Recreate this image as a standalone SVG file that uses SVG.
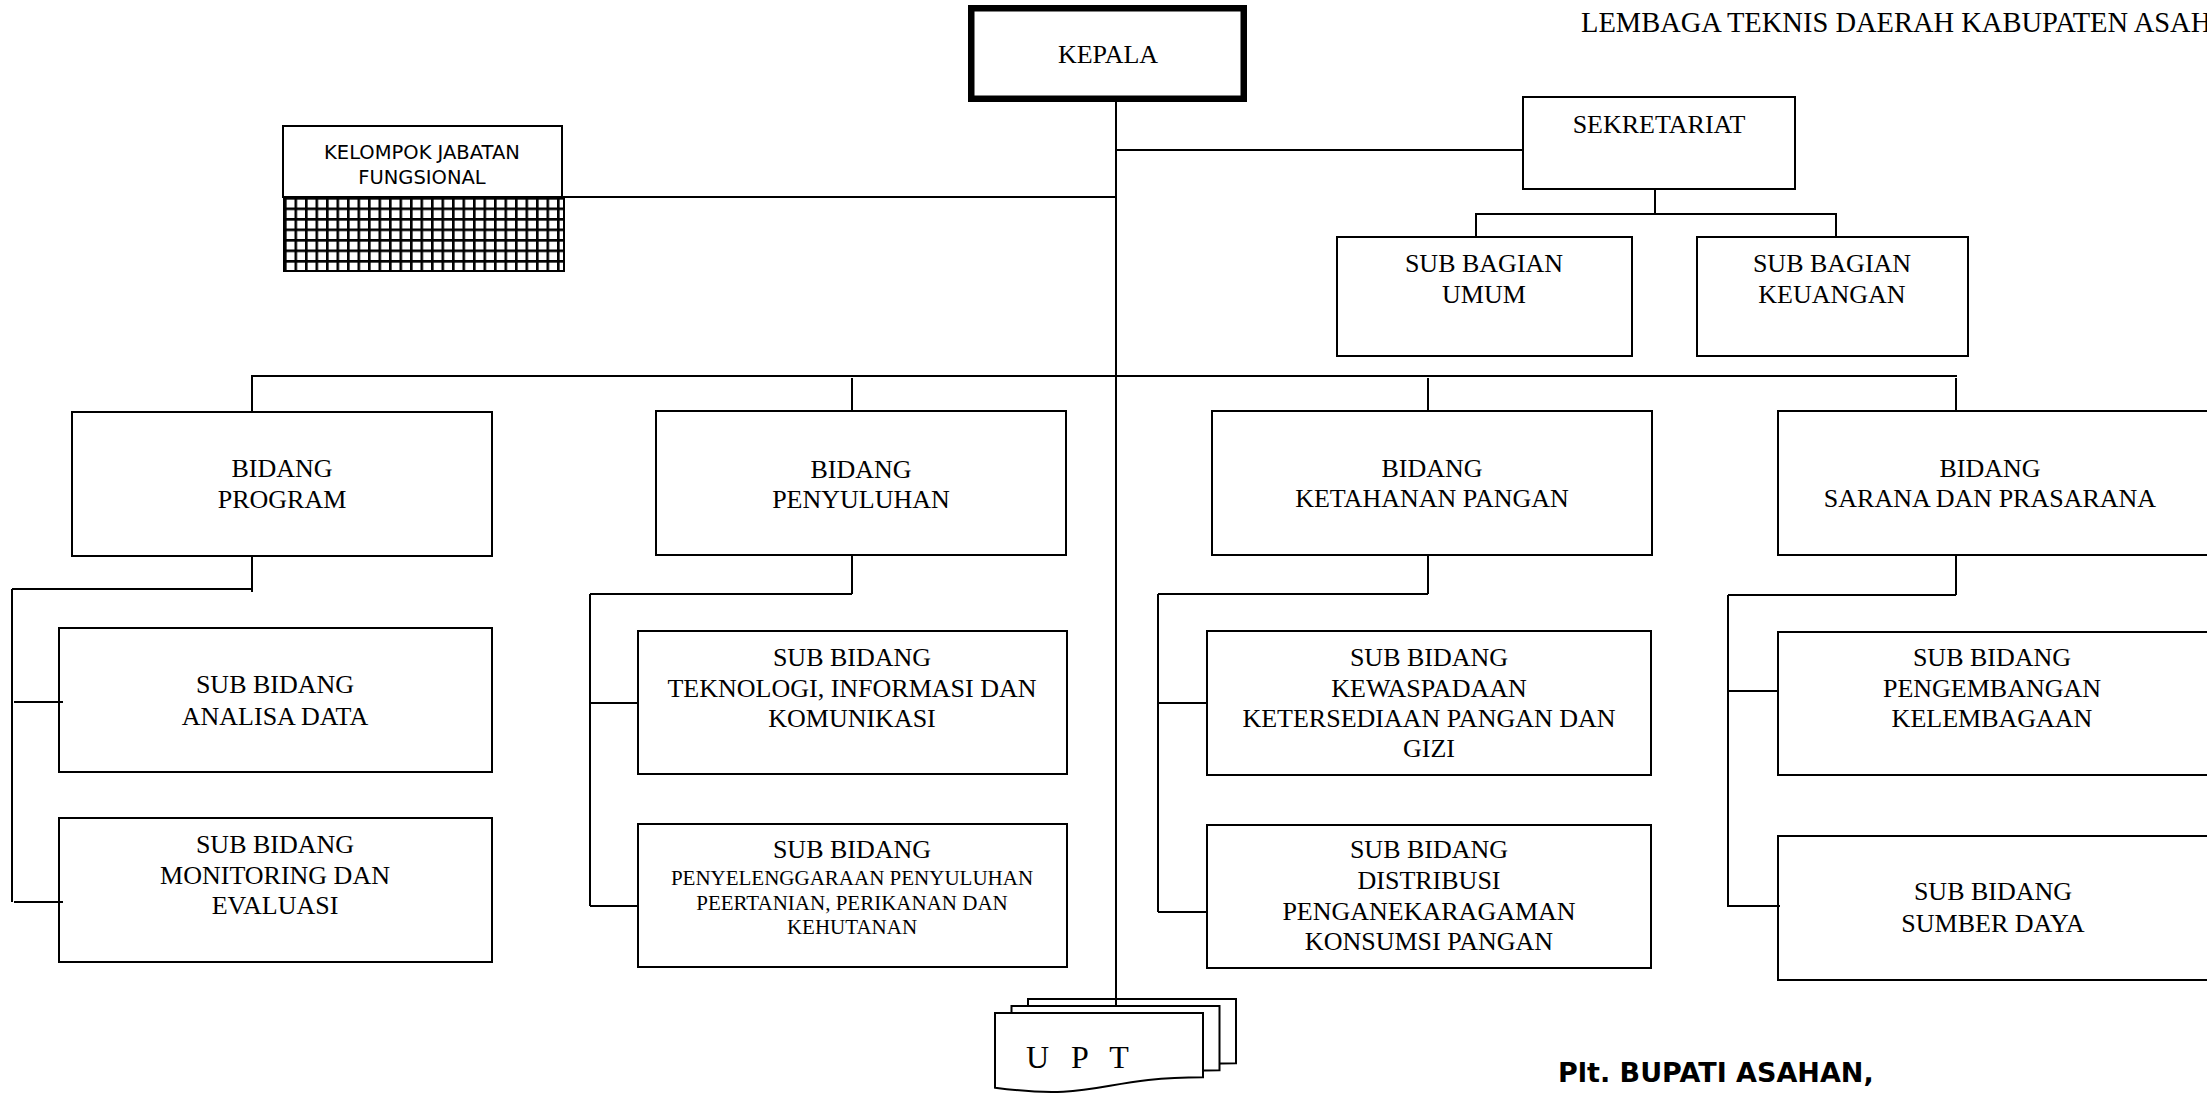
<svg xmlns="http://www.w3.org/2000/svg" width="2207" height="1093" viewBox="0 0 2207 1093">
  <defs>
    <style>
      .box { fill: #fff; stroke: #000; stroke-width: 2; }
      .ln { fill: none; stroke: #000; stroke-width: 2; }
      .t { font-family: "Liberation Serif", "Times New Roman", serif; font-size: 26px; text-anchor: middle; fill: #000; }
      .ts { font-size: 21px; }
      .sans { font-family: "DejaVu Sans", Verdana, sans-serif; font-size: 19.5px; text-anchor: middle; fill: #000; }
    </style>
    <!-- fine square grid fill used for the functional-group block -->
    <pattern id="grid" x="284" y="197" width="10.5" height="10.5" patternUnits="userSpaceOnUse">
      <rect width="10.5" height="10.5" fill="#fff"/>
      <path d="M0 1.3H10.5M1.3 0V10.5" stroke="#000" stroke-width="2.6"/>
    </pattern>
    <!-- stacked-document outline -->
    <path id="doc" d="M0 0H208V64.2C104 64.2 104 88.6 0 74.7Z"/>
  </defs>

  <rect width="2207" height="1093" fill="#fff"/>

  <text x="1581" y="32" font-family="'Liberation Serif', 'Times New Roman', serif" font-size="28.5" fill="#000">LEMBAGA TEKNIS DAERAH KABUPATEN ASAHAN</text>

  <g id="kepala">
    <rect x="971.25" y="8.25" width="272.5" height="90.5" fill="#fff" stroke="#000" stroke-width="6.5"/>
    <text class="t" x="1108" y="63">KEPALA</text>
  </g>

  <g id="kelompok-jabatan-fungsional">
    <rect class="box" x="283" y="126" width="279" height="71"/>
    <rect x="284" y="197" width="280" height="74" fill="url(#grid)" stroke="#000" stroke-width="2"/>
    <text class="sans" x="422" y="159">KELOMPOK JABATAN</text>
    <text class="sans" x="422" y="184">FUNGSIONAL</text>
  </g>

  <g id="sekretariat">
    <rect class="box" x="1523" y="97" width="272" height="92"/>
    <text class="t" x="1659" y="133">SEKRETARIAT</text>
  </g>

  <g id="sub-bagian-umum">
    <rect class="box" x="1337" y="237" width="295" height="119"/>
    <text class="t" x="1484" y="272">SUB BAGIAN</text>
    <text class="t" x="1484" y="303">UMUM</text>
  </g>

  <g id="sub-bagian-keuangan">
    <rect class="box" x="1697" y="237" width="271" height="119"/>
    <text class="t" x="1832" y="272">SUB BAGIAN</text>
    <text class="t" x="1832" y="303">KEUANGAN</text>
  </g>

  <g id="bidang-program">
    <rect class="box" x="72" y="412" width="420" height="144"/>
    <text class="t" x="282" y="477">BIDANG</text>
    <text class="t" x="282" y="508">PROGRAM</text>
  </g>

  <g id="bidang-penyuluhan">
    <rect class="box" x="656" y="411" width="410" height="144"/>
    <text class="t" x="861" y="478">BIDANG</text>
    <text class="t" x="861" y="508">PENYULUHAN</text>
  </g>

  <g id="bidang-ketahanan-pangan">
    <rect class="box" x="1212" y="411" width="440" height="144"/>
    <text class="t" x="1432" y="477">BIDANG</text>
    <text class="t" x="1432" y="507">KETAHANAN PANGAN</text>
  </g>

  <g id="bidang-sarana-prasarana">
    <rect class="box" x="1778" y="411" width="437" height="144"/>
    <text class="t" x="1990" y="477">BIDANG</text>
    <text class="t" x="1990" y="507">SARANA DAN PRASARANA</text>
  </g>

  <g id="sub-bidang-analisa-data">
    <rect class="box" x="59" y="628" width="433" height="144"/>
    <text class="t" x="275" y="693">SUB BIDANG</text>
    <text class="t" x="275" y="725">ANALISA DATA</text>
  </g>

  <g id="sub-bidang-monitoring">
    <rect class="box" x="59" y="818" width="433" height="144"/>
    <text class="t" x="275" y="853">SUB BIDANG</text>
    <text class="t" x="275" y="884">MONITORING DAN</text>
    <text class="t" x="275" y="914">EVALUASI</text>
  </g>

  <g id="sub-bidang-tik">
    <rect class="box" x="638" y="631" width="429" height="143"/>
    <text class="t" x="852" y="666">SUB BIDANG</text>
    <text class="t" x="852" y="697">TEKNOLOGI, INFORMASI DAN</text>
    <text class="t" x="852" y="727">KOMUNIKASI</text>
  </g>

  <g id="sub-bidang-penyelenggaraan">
    <rect class="box" x="638" y="824" width="429" height="143"/>
    <text class="t" x="852" y="858">SUB BIDANG</text>
    <text class="t ts" x="852" y="885">PENYELENGGARAAN PENYULUHAN</text>
    <text class="t ts" x="852" y="910">PEERTANIAN, PERIKANAN DAN</text>
    <text class="t ts" x="852" y="934">KEHUTANAN</text>
  </g>

  <g id="sub-bidang-kewaspadaan">
    <rect class="box" x="1207" y="631" width="444" height="144"/>
    <text class="t" x="1429" y="666">SUB BIDANG</text>
    <text class="t" x="1429" y="697">KEWASPADAAN</text>
    <text class="t" x="1429" y="727">KETERSEDIAAN PANGAN DAN</text>
    <text class="t" x="1429" y="757">GIZI</text>
  </g>

  <g id="sub-bidang-distribusi">
    <rect class="box" x="1207" y="825" width="444" height="143"/>
    <text class="t" x="1429" y="858">SUB BIDANG</text>
    <text class="t" x="1429" y="889">DISTRIBUSI</text>
    <text class="t" x="1429" y="920">PENGANEKARAGAMAN</text>
    <text class="t" x="1429" y="950">KONSUMSI PANGAN</text>
  </g>

  <g id="sub-bidang-pengembangan">
    <rect class="box" x="1778" y="632" width="437" height="143"/>
    <text class="t" x="1992" y="666">SUB BIDANG</text>
    <text class="t" x="1992" y="697">PENGEMBANGAN</text>
    <text class="t" x="1992" y="727">KELEMBAGAAN</text>
  </g>

  <g id="sub-bidang-sumber-daya">
    <rect class="box" x="1778" y="836" width="437" height="144"/>
    <text class="t" x="1993" y="900">SUB BIDANG</text>
    <text class="t" x="1993" y="932">SUMBER DAYA</text>
  </g>

  <g id="upt">
    <use href="#doc" x="1028" y="999" class="box"/>
    <use href="#doc" x="1011.5" y="1006" class="box"/>
    <use href="#doc" x="995" y="1013" class="box"/>
    <text x="1026" y="1068" font-family="'Liberation Serif', 'Times New Roman', serif" font-size="32" letter-spacing="7" fill="#000">U P T</text>
  </g>

  <g id="connectors" class="ln">
    <!-- trunk from KEPALA down to UPT -->
    <path d="M1116 102V1007"/>
    <!-- staff branches -->
    <path d="M1116 150H1523"/>
    <path d="M562 197H1116"/>
    <path d="M1655 189V214M1476 214H1836M1476 213V237M1836 213V237"/>
    <!-- bus to the four BIDANG -->
    <path d="M252 376H1957"/>
    <path d="M252 375V412M852 378V411M1428 378V411M1956 378V411"/>
    <!-- BIDANG PROGRAM subtree -->
    <path d="M252 556V592M12 589H252M12 589V902M14 702H63M14 902H63"/>
    <!-- BIDANG PENYULUHAN subtree -->
    <path d="M852 555V594M590 594H852M590 594V906M590 703H638M590 906H638"/>
    <!-- BIDANG KETAHANAN PANGAN subtree -->
    <path d="M1428 555V594M1158 594H1428M1158 594V912M1158 703H1207M1158 912H1207"/>
    <!-- BIDANG SARANA DAN PRASARANA subtree -->
    <path d="M1956 555V595M1728 595H1956M1728 595V907M1728 691H1778M1728 906H1780"/>
  </g>

  <text x="1558" y="1082" font-family="'DejaVu Sans', Verdana, sans-serif" font-weight="bold" font-size="27" fill="#000">Plt. BUPATI ASAHAN,</text>
</svg>
